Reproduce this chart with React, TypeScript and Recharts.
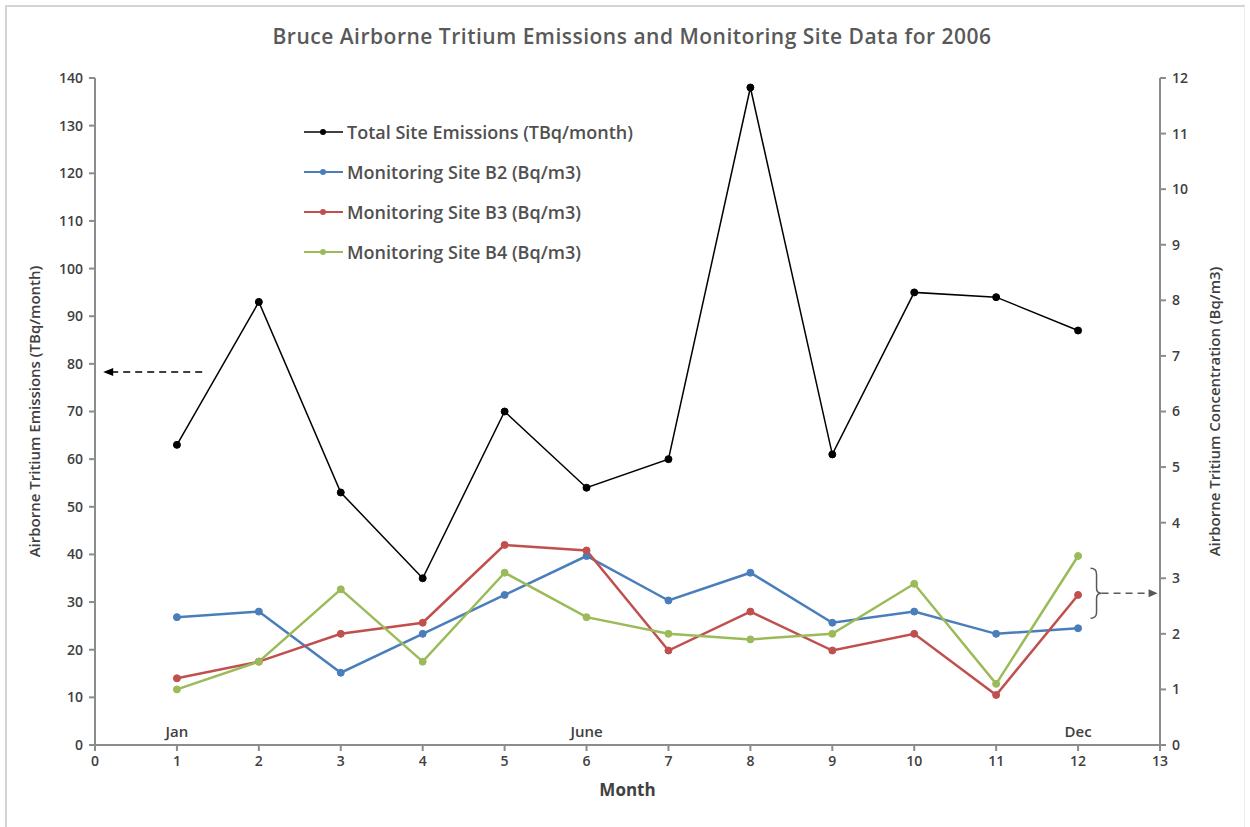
import React from "react"
import {
  LineChart,
  Line,
  XAxis,
  YAxis,
  Legend,
  ReferenceLine,
  ReferenceDot,
} from "recharts"

const months = [1, 2, 3, 4, 5, 6, 7, 8, 9, 10, 11, 12]
const totalEmissions = [63, 93, 53, 35, 70, 54, 60, 138, 61, 95, 94, 87]
const siteB2 = [2.3, 2.4, 1.3, 2.0, 2.7, 3.4, 2.6, 3.1, 2.2, 2.4, 2.0, 2.1]
const siteB3 = [1.2, 1.5, 2.0, 2.2, 3.6, 3.5, 1.7, 2.4, 1.7, 2.0, 0.9, 2.7]
const siteB4 = [1.0, 1.5, 2.8, 1.5, 3.1, 2.3, 2.0, 1.9, 2.0, 2.9, 1.1, 3.4]

const monthTicks = [0, 1, 2, 3, 4, 5, 6, 7, 8, 9, 10, 11, 12, 13]
const leftTicks = [0, 10, 20, 30, 40, 50, 60, 70, 80, 90, 100, 110, 120, 130, 140]
const rightTicks = [0, 1, 2, 3, 4, 5, 6, 7, 8, 9, 10, 11, 12]
const monthNames = [
  { month: 1, name: "Jan" },
  { month: 6, name: "June" },
  { month: 12, name: "Dec" },
]

const FONT = "'Open Sans', sans-serif"
const TEXT = "#404040"
const AXIS = "#8c8c8c"

const series = [
  { key: "total", name: "Total Site Emissions (TBq/month)", color: "#000000", axis: "left", width: 1.5 },
  { key: "b2", name: "Monitoring Site B2 (Bq/m3)", color: "#4a7ebb", axis: "right", width: 2.5 },
  { key: "b3", name: "Monitoring Site B3 (Bq/m3)", color: "#c0504d", axis: "right", width: 2.5 },
  { key: "b4", name: "Monitoring Site B4 (Bq/m3)", color: "#9bbb59", axis: "right", width: 2.5 },
]

const data = months.map((m, i) => ({
  month: m,
  total: totalEmissions[i],
  b2: siteB2[i],
  b3: siteB3[i],
  b4: siteB4[i],
}))

const tickStyle = { fill: TEXT, fontSize: 14, fontFamily: FONT, fontWeight: 600 }
const axisLabelStyle = { textAnchor: "middle", fill: TEXT, fontSize: 15, fontFamily: FONT, fontWeight: 600 }

function LegendBox() {
  return (
    <div style={{ fontFamily: FONT, fontSize: 18, fontWeight: 600, color: "#505050" }}>
      {series.map((s) => (
        <div key={s.key} style={{ display: "flex", alignItems: "center", height: 40 }}>
          <svg width={42} height={10} style={{ marginRight: 2 }}>
            <line x1={1} y1={5} x2={40} y2={5} stroke={s.color} strokeWidth={s.width === 1.5 ? 1.5 : 2} />
            <circle cx={20} cy={5} r={3} fill={s.color} />
          </svg>
          <span>{s.name}</span>
        </div>
      ))}
    </div>
  )
}

// dashed arrow pointing left to the emissions axis
function LeftArrow(props: any) {
  const { x1, y1, x2 } = props
  const tip = Math.min(x1, x2)
  const tail = Math.max(x1, x2)
  return (
    <g>
      <line x1={tip + 8} y1={y1} x2={tail} y2={y1} stroke="#000" strokeWidth={1.5} strokeDasharray="7 5" />
      <path d={`M${tip},${y1} L${tip + 10},${y1 - 4} L${tip + 10},${y1 + 4} Z`} fill="#000" />
    </g>
  )
}

// brace around the site series plus dashed arrow to the concentration axis
function RightArrow(props: any) {
  const { x1, y1, x2 } = props
  const start = Math.min(x1, x2)
  const tip = Math.max(x1, x2)
  const bx = start - 8
  const h = 25
  return (
    <g>
      <path
        d={`M${bx},${y1 - h} Q${bx + 6},${y1 - h} ${bx + 6},${y1 - h + 6} L${bx + 6},${y1 - 5} Q${bx + 6},${y1} ${bx + 11},${y1} Q${bx + 6},${y1} ${bx + 6},${y1 + 5} L${bx + 6},${y1 + h - 6} Q${bx + 6},${y1 + h} ${bx},${y1 + h}`}
        fill="none"
        stroke="#595959"
        strokeWidth={1.5}
      />
      <line x1={start + 3} y1={y1} x2={tip - 8} y2={y1} stroke="#595959" strokeWidth={1.5} strokeDasharray="7 5" />
      <path d={`M${tip},${y1} L${tip - 9},${y1 - 4} L${tip - 9},${y1 + 4} Z`} fill="#595959" />
    </g>
  )
}

export default function App() {
  return (
    <div style={{ position: "absolute", left: 0, top: 0, width: 1250, height: 827, background: "#fff", overflow: "hidden" }}>
      <div
        style={{
          position: "absolute",
          left: 5,
          top: 5,
          width: 1237,
          height: 840,
          borderTop: "2px solid #d4d4d4",
          borderLeft: "2px solid #d4d4d4",
          borderRight: "1px solid #ececec",
        }}
      />
      <div
        style={{
          position: "absolute",
          left: 0,
          top: 22,
          width: 1264,
          textAlign: "center",
          fontFamily: FONT,
          fontSize: 21,
          fontWeight: 600,
          letterSpacing: 0.5,
          color: "#595959",
        }}
      >
        Bruce Airborne Tritium Emissions and Monitoring Site Data for 2006
      </div>
      <LineChart width={1250} height={827} data={data} margin={{ top: 78, right: 15, bottom: 22, left: 20 }}>
        <XAxis
          dataKey="month"
          type="number"
          domain={[0, 13]}
          ticks={monthTicks}
          interval={0}
          stroke={AXIS}
          strokeWidth={2}
          tickSize={6}
          tickMargin={5}
          height={60}
          tick={tickStyle}
          label={{ value: "Month", position: "insideBottom", offset: 9, style: { fill: TEXT, fontSize: 17, fontFamily: FONT, fontWeight: 700 } }}
        />
        <YAxis
          yAxisId="left"
          domain={[0, 140]}
          ticks={leftTicks}
          interval={0}
          stroke={AXIS}
          strokeWidth={2}
          tickSize={6}
          tickMargin={6}
          width={75}
          tick={tickStyle}
          label={{
            value: "Airborne Tritium Emissions (TBq/month)",
            angle: -90,
            position: "insideLeft",
            offset: 15,
            style: axisLabelStyle,
          }}
        />
        <YAxis
          yAxisId="right"
          orientation="right"
          domain={[0, 12]}
          ticks={rightTicks}
          interval={0}
          stroke={AXIS}
          strokeWidth={2}
          tickSize={6}
          tickMargin={6}
          width={75}
          tick={tickStyle}
          label={{
            value: "Airborne Tritium Concentration (Bq/m3)",
            angle: -90,
            position: "insideRight",
            offset: 20,
            style: axisLabelStyle,
          }}
        />
        <Legend
          layout="vertical"
          align="center"
          verticalAlign="middle"
          content={() => <LegendBox />}
          wrapperStyle={{ left: 303, top: 112, width: 380 }}
        />
        {series.map((s) => (
          <Line
            key={s.key}
            yAxisId={s.axis}
            type="linear"
            dataKey={s.key}
            name={s.name}
            stroke={s.color}
            strokeWidth={s.width}
            dot={{ r: 3.5, fill: s.color, stroke: s.color, strokeWidth: 1 }}
            activeDot={false}
            isAnimationActive={false}
          />
        ))}
        {monthNames.map((m) => (
          <ReferenceDot
            key={m.name}
            yAxisId="left"
            x={m.month}
            y={0}
            r={0}
            stroke="none"
            fill="none"
            label={{ value: m.name, position: "top", offset: 8, style: { fill: TEXT, fontSize: 15, fontFamily: FONT, fontWeight: 600 } }}
          />
        ))}
        <ReferenceLine
          yAxisId="left"
          segment={[
            { x: 0.1, y: 78.3 },
            { x: 1.34, y: 78.3 },
          ]}
          shape={LeftArrow}
        />
        <ReferenceLine
          yAxisId="right"
          segment={[
            { x: 12.25, y: 2.73 },
            { x: 12.97, y: 2.73 },
          ]}
          shape={RightArrow}
        />
      </LineChart>
    </div>
  )
}
